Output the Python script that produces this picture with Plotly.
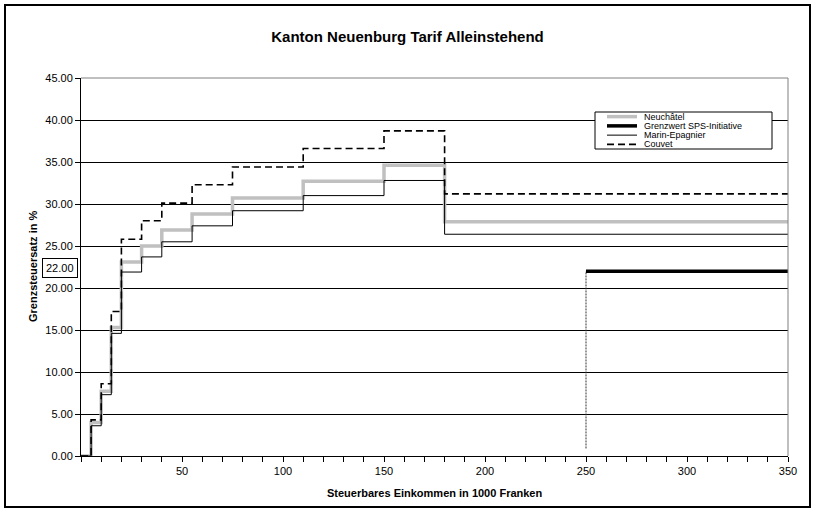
import plotly.graph_objects as go

# Income brackets (in 1000 Fr) where the marginal rate changes; last point closes the range
income_breaks = [0, 5, 10, 15, 20, 30, 40, 55, 75, 110, 150, 180, 350]

# Marginal tax rates in % for each bracket (last value repeated to close the step)
neuchatel = [0.0, 4.0, 7.7, 15.3, 23.1, 25.0, 26.9, 28.8, 30.7, 32.7, 34.6, 27.9, 27.9]
marin_epagnier = [0.0, 3.6, 7.3, 14.6, 21.9, 23.7, 25.5, 27.4, 29.2, 31.0, 32.8, 26.4, 26.4]
couvet = [0.0, 4.3, 8.6, 17.2, 25.8, 28.0, 30.1, 32.3, 34.4, 36.6, 38.7, 31.2, 31.2]

# SPS initiative limit
grenz_x = [250, 350]
grenz_y = [22.0, 22.0]
grenz_drop_y = [0.9, 22.0]

series_names = ["Neuchâtel", "Grenzwert SPS-Initiative", "Marin-Epagnier", "Couvet"]

x_ticks = [0, 50, 100, 150, 200, 250, 300, 350]
x_tick_labels = ["", "50", "100", "150", "200", "250", "300", "350"]

FONT = "Liberation Sans, Arial, sans-serif"
W, H = 815, 512
ML, MR, MT, MB = 81, 27, 78, 56
PW, PH = W - ML - MR, H - MT - MB


def px_x(px):
    return (px - ML) / PW


def px_y(py):
    return (H - MB - py) / PH


styles = {
    "Neuchâtel": dict(color="#C0C0C0", width=3.5, dash="solid"),
    "Grenzwert SPS-Initiative": dict(color="#000000", width=3.5, dash="solid"),
    "Marin-Epagnier": dict(color="#000000", width=1, dash="solid"),
    "Couvet": dict(color="#000000", width=1.6, dash="7px,4px"),
}

fig = go.Figure()

fig.add_trace(go.Scatter(x=income_breaks, y=neuchatel, mode="lines", line_shape="hv",
                         line=styles["Neuchâtel"], name="Neuchâtel", showlegend=False))
fig.add_trace(go.Scatter(x=[grenz_x[0], grenz_x[0]], y=grenz_drop_y, mode="lines",
                         line=dict(color="#333333", width=1, dash="2px,1px"),
                         showlegend=False, hoverinfo="skip"))
fig.add_trace(go.Scatter(x=grenz_x, y=grenz_y, mode="lines",
                         line=styles["Grenzwert SPS-Initiative"],
                         name="Grenzwert SPS-Initiative", showlegend=False))
fig.add_trace(go.Scatter(x=income_breaks, y=marin_epagnier, mode="lines", line_shape="hv",
                         line=styles["Marin-Epagnier"], name="Marin-Epagnier", showlegend=False))
fig.add_trace(go.Scatter(x=income_breaks, y=couvet, mode="lines", line_shape="hv",
                         line=styles["Couvet"], name="Couvet", showlegend=False))

shapes = []
annotations = []

# Plot area frame (top and right in grey)
shapes.append(dict(type="line", xref="paper", yref="paper", x0=0, x1=1, y0=1, y1=1,
                   line=dict(color="#808080", width=1)))
shapes.append(dict(type="line", xref="paper", yref="paper", x0=1, x1=1, y0=0, y1=1,
                   line=dict(color="#808080", width=1)))

# Outer chart frame
shapes.append(dict(type="rect", xref="paper", yref="paper",
                   x0=px_x(5), x1=px_x(810), y0=px_y(507), y1=px_y(5),
                   line=dict(color="#000000", width=2)))

# Legend box
lg_left, lg_right, lg_top, lg_bottom = 595, 772, 112, 149
shapes.append(dict(type="rect", xref="paper", yref="paper",
                   x0=px_x(lg_left), x1=px_x(lg_right), y0=px_y(lg_bottom), y1=px_y(lg_top),
                   line=dict(color="#000000", width=1), fillcolor="white"))
row_h = (lg_bottom - lg_top) / len(series_names)
for i, name in enumerate(series_names):
    cy = lg_top + row_h * (i + 0.5)
    st = styles[name]
    shapes.append(dict(type="line", xref="paper", yref="paper",
                       x0=px_x(607), x1=px_x(637), y0=px_y(cy), y1=px_y(cy),
                       line=dict(color=st["color"], width=st["width"],
                                 dash=st["dash"])))
    annotations.append(dict(xref="paper", yref="paper", x=px_x(642), y=px_y(cy),
                            text=name, showarrow=False, xanchor="left", yanchor="middle",
                            font=dict(family=FONT, size=9, color="black")))

# Axis titles
annotations.append(dict(xref="paper", yref="paper", x=0.5, y=px_y(493),
                        text="<b>Steuerbares Einkommen in 1000 Franken</b>", showarrow=False,
                        xanchor="center", yanchor="middle",
                        font=dict(family=FONT, size=11, color="black")))
annotations.append(dict(xref="paper", yref="paper", x=px_x(33), y=0.5,
                        text="<b>Grenzsteuersatz in %</b>", showarrow=False, textangle=-90,
                        xanchor="center", yanchor="middle",
                        font=dict(family=FONT, size=11, color="black")))

# Value label for the limit
annotations.append(dict(xref="paper", yref="y", x=px_x(60), y=grenz_y[0], yshift=3,
                        text=f"{grenz_y[0]:.2f}", showarrow=False, xanchor="center",
                        yanchor="middle", bordercolor="black", borderwidth=1, borderpad=3,
                        bgcolor="white", font=dict(family=FONT, size=11, color="black")))

fig.update_layout(
    width=W, height=H,
    margin=dict(l=ML, r=MR, t=MT, b=MB),
    paper_bgcolor="white", plot_bgcolor="white",
    title=dict(text="<b>Kanton Neuenburg Tarif Alleinstehend</b>", x=0.5, xref="container",
               xanchor="center", y=1 - 37 / H, yref="container", yanchor="middle",
               font=dict(family=FONT, size=15, color="black")),
    font=dict(family=FONT, size=11, color="black"),
    shapes=shapes, annotations=annotations, showlegend=False,
)

fig.update_xaxes(range=[0, 350], tickvals=x_ticks, ticktext=x_tick_labels,
                 ticks="outside", ticklen=5, tickcolor="black", showgrid=False,
                 showline=True, linecolor="black", linewidth=1, zeroline=False,
                 minor=dict(dtick=10, ticks="outside", ticklen=5, tickcolor="black", showgrid=False),
                 tickfont=dict(family=FONT, size=11, color="black"))
fig.update_yaxes(range=[0, 45], dtick=5, tickformat=".2f", ticks="outside", ticklen=5,
                 tickcolor="black", showgrid=True, gridcolor="#000000", gridwidth=1,
                 showline=True, linecolor="black", linewidth=1, zeroline=False,
                 tickfont=dict(family=FONT, size=11, color="black"))

fig.write_html("out.html")
